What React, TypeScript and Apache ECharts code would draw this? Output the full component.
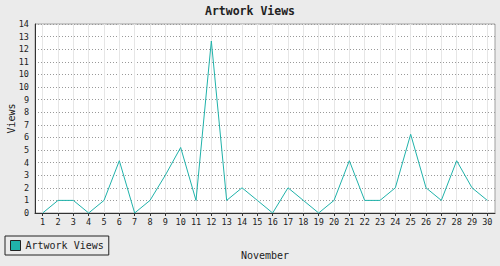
import React, { useEffect, useRef } from "react";
import * as echarts from "echarts";

const days: string[] = [
  "1", "2", "3", "4", "5", "6", "7", "8", "9", "10",
  "11", "12", "13", "14", "15", "16", "17", "18", "19", "20",
  "21", "22", "23", "24", "25", "26", "27", "28", "29", "30",
];
const views: number[] = [
  0, 1, 1, 0, 1, 4.15, 0, 1, 3, 5.2,
  1, 13.65, 1, 2, 1, 0, 2, 1, 0, 1,
  4.15, 1, 1, 2, 6.25, 2, 1, 4.15, 2, 1,
];
const yTickLabels: string[] = [
  "0", "1", "2", "3", "4", "5", "6", "7", "8", "9", "10", "10", "11", "12", "13", "14",
];

const MONO = "'DejaVu Sans Mono', 'Liberation Mono', monospace";
const TEAL = "#20b2aa";

export default function App() {
  const ref = useRef<HTMLDivElement>(null);
  useEffect(() => {
    if (!ref.current) return;
    const chart = echarts.init(ref.current, null, { renderer: "svg" });
    chart.setOption({
      animation: false,
      backgroundColor: "#ebebeb",
      title: {
        text: "Artwork Views",
        left: "center",
        top: 5,
        padding: 0,
        textStyle: { fontFamily: MONO, fontWeight: "bold", fontSize: 11.5, color: "#222" },
      },
      legend: {
        left: 5,
        top: 236,
        orient: "horizontal",
        padding: [4, 5, 4, 5],
        borderColor: "#222",
        borderWidth: 1,
        itemWidth: 10,
        itemHeight: 10,
        itemGap: 5,
        icon: "rect",
        itemStyle: { borderColor: "#222", borderWidth: 1 },
        textStyle: { fontFamily: MONO, fontSize: 10, color: "#222", padding: [0, 0, 0, 0] },
        data: ["Artwork Views"],
      },
      grid: {
        left: 35,
        right: 5,
        top: 24,
        bottom: 53,
        containLabel: false,
        outerBoundsMode: "none",
        show: true,
        backgroundColor: "#fff",
        borderColor: "#a0a0a0",
        borderWidth: 1,
      },
      xAxis: {
        type: "category",
        data: days,
        boundaryGap: true,
        name: "November",
        nameLocation: "middle",
        nameGap: 37,
        nameTextStyle: { fontFamily: MONO, fontSize: 10, color: "#222" },
        axisLine: { lineStyle: { color: "#333", width: 1 } },
        axisTick: { show: true, alignWithLabel: true, length: 3, lineStyle: { color: "#333" } },
        axisLabel: { fontFamily: MONO, fontSize: 8.5, color: "#222", margin: 4, interval: 0 },
        splitLine: { show: true, alignWithLabel: true, lineStyle: { color: "#e6e6e6", width: 1 } },
      },
      yAxis: {
        type: "value",
        min: 0,
        max: 15,
        interval: 1,
        name: "Views",
        nameLocation: "middle",
        nameGap: 19,
        nameMoveOverlap: false,
        nameTextStyle: { fontFamily: MONO, fontSize: 10, color: "#222" },
        axisLine: { show: true, lineStyle: { color: "#333", width: 1 } },
        axisTick: { show: false },
        axisLabel: {
          fontFamily: MONO,
          fontSize: 8.5,
          color: "#222",
          margin: 6,
          formatter: (v: number) => yTickLabels[Math.round(v)] ?? "",
        },
        splitLine: { show: true, lineStyle: { color: "#999", type: [1, 2], width: 1 } },
      },
      series: [
        {
          name: "Artwork Views",
          type: "line",
          data: views,
          symbol: "none",
          itemStyle: { color: TEAL },
          lineStyle: { color: TEAL, width: 1 },
        },
      ],
    });
    return () => chart.dispose();
  }, []);
  return (
    <div
      ref={ref}
      style={{ position: "fixed", left: 0, top: 0, width: 500, height: 266 }}
    />
  );
}
